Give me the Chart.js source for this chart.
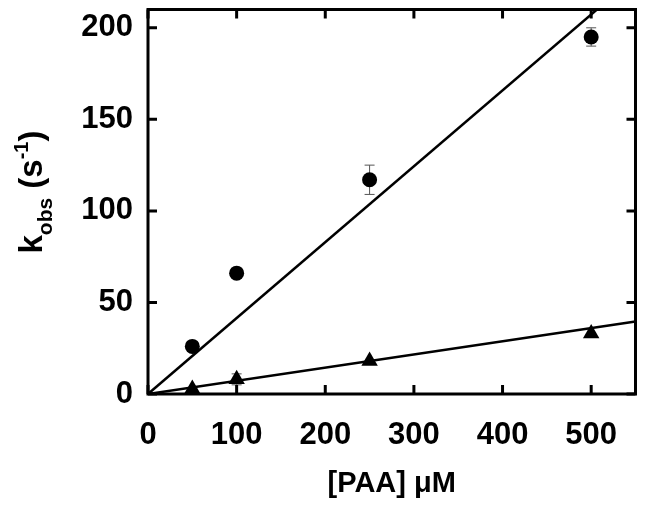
<!DOCTYPE html>
<html>
<head>
<meta charset="utf-8">
<script src="https://cdn.jsdelivr.net/npm/chart.js@4.4.1/dist/chart.umd.min.js"></script>
<style>
  html, body { margin: 0; padding: 0; background: #fff; }
  #wrap { width: 645px; height: 505px; }
</style>
</head>
<body>
<div id="wrap"><canvas id="chart"></canvas></div>
<script>
// Data
const paaConc = [50, 100, 250, 500];
const kobsCircle = [26, 66, 117, 195];
const kobsCircleErr = [0, 0, 8, 5];
const kobsTriangle = [2.7, 8, 18, 33];
const kobsTriangleErr = [0, 3, 0, 0];

// Linear fits through the origin (end points)
const fitX = [0, 550];
const fitCircleY = [0, 228];
const fitTriangleY = [0, 39.6];

const xTicks = [0, 100, 200, 300, 400, 500];
const yTicks = [0, 50, 100, 150, 200];

const FONT = '"Liberation Sans", Arial, sans-serif';

const toPts = (xs, ys) => xs.map((x, i) => ({ x: x, y: ys[i] }));

// frame, inward ticks and error bars
const framePlugin = {
    id: 'frame',
    beforeDatasetsDraw(chart) {
        const { ctx, scales } = chart;
        ctx.save();
        ctx.strokeStyle = '#555';
        ctx.lineWidth = 1;
        const errs = [kobsCircleErr, kobsTriangleErr];
        const vals = [kobsCircle, kobsTriangle];
        errs.forEach((err, k) => {
            paaConc.forEach((x, i) => {
                const e = err[i];
                if (!e) return;
                const px = scales.x.getPixelForValue(x);
                const top = scales.y.getPixelForValue(vals[k][i] + e);
                const bot = scales.y.getPixelForValue(vals[k][i] - e);
                ctx.beginPath();
                ctx.moveTo(px, top); ctx.lineTo(px, bot);
                ctx.moveTo(px - 5, top); ctx.lineTo(px + 5, top);
                ctx.moveTo(px - 5, bot); ctx.lineTo(px + 5, bot);
                ctx.stroke();
            });
        });
        ctx.restore();
    },
    afterDraw(chart) {
        const { ctx, chartArea: a, scales } = chart;
        ctx.save();
        ctx.strokeStyle = '#000';
        ctx.lineWidth = 3;
        ctx.strokeRect(a.left, a.top, a.right - a.left, a.bottom - a.top);
        ctx.beginPath();
        xTicks.forEach(v => {
            const px = scales.x.getPixelForValue(v);
            ctx.moveTo(px, a.bottom); ctx.lineTo(px, a.bottom - 9);
            ctx.moveTo(px, a.top); ctx.lineTo(px, a.top + 9);
        });
        yTicks.forEach(v => {
            const py = scales.y.getPixelForValue(v);
            ctx.moveTo(a.left, py); ctx.lineTo(a.left + 9, py);
            ctx.moveTo(a.right, py); ctx.lineTo(a.right - 9, py);
        });
        ctx.stroke();

        // y axis title with subscript and superscript
        const parts = [
            { t: 'k', size: 33, dy: 0 },
            { t: 'obs', size: 21, dy: 10 },
            { t: ' (s', size: 33, dy: 0 },
            { t: '-1', size: 20, dy: -14 },
            { t: ')', size: 33, dy: 0 }
        ];
        let total = 0;
        parts.forEach(p => {
            ctx.font = 'bold ' + p.size + 'px ' + FONT;
            p.w = ctx.measureText(p.t).width;
            total += p.w;
        });
        ctx.translate(42, 192);
        ctx.rotate(-Math.PI / 2);
        ctx.fillStyle = '#000';
        ctx.textBaseline = 'alphabetic';
        let x = -total / 2;
        parts.forEach(p => {
            ctx.font = 'bold ' + p.size + 'px ' + FONT;
            ctx.fillText(p.t, x, p.dy);
            x += p.w;
        });
        ctx.restore();
    }
};

new Chart(document.getElementById('chart'), {
    type: 'scatter',
    data: {
        datasets: [
            {
                type: 'line',
                data: toPts(fitX, fitCircleY),
                borderColor: '#000',
                borderWidth: 2.5,
                pointRadius: 0,
                fill: false
            },
            {
                type: 'line',
                data: toPts(fitX, fitTriangleY),
                borderColor: '#000',
                borderWidth: 2.5,
                pointRadius: 0,
                fill: false
            },
            {
                data: toPts(paaConc, kobsCircle),
                pointStyle: 'circle',
                pointRadius: 7.5,
                backgroundColor: '#000',
                borderColor: '#000',
                borderWidth: 0
            },
            {
                data: toPts(paaConc, kobsTriangle),
                pointStyle: 'triangle',
                pointRadius: 9.5,
                backgroundColor: '#000',
                borderColor: '#000',
                borderWidth: 0
            }
        ]
    },
    options: {
        responsive: true,
        maintainAspectRatio: false,
        animation: false,
        layout: { padding: { top: 8, right: 7, left: 0, bottom: 0 } },
        plugins: {
            legend: { display: false },
            tooltip: { enabled: false }
        },
        scales: {
            x: {
                type: 'linear',
                min: 0,
                max: 550,
                afterBuildTicks: s => { s.ticks = xTicks.map(v => ({ value: v })); },
                afterFit: s => { s.height = 111; s.paddingLeft = 0; s.paddingRight = 0; },
                grid: { display: false, drawTicks: false },
                border: { display: false },
                ticks: {
                    padding: 23,
                    color: '#000',
                    maxRotation: 0,
                    font: { family: FONT, size: 31, weight: 'bold' }
                },
                title: {
                    display: true,
                    text: '[PAA] \u03BCM',
                    color: '#000',
                    padding: { top: 10 },
                    font: { family: FONT, size: 29, weight: 'bold' }
                }
            },
            y: {
                min: 0,
                max: 210,
                afterBuildTicks: s => { s.ticks = yTicks.map(v => ({ value: v })); },
                afterFit: s => { s.width = 148; s.paddingTop = 0; s.paddingBottom = 0; },
                grid: { display: false, drawTicks: false },
                border: { display: false },
                ticks: {
                    padding: 15,
                    color: '#000',
                    font: { family: FONT, size: 31, weight: 'bold' }
                }
            }
        }
    },
    plugins: [framePlugin]
});
</script>
</body>
</html>
